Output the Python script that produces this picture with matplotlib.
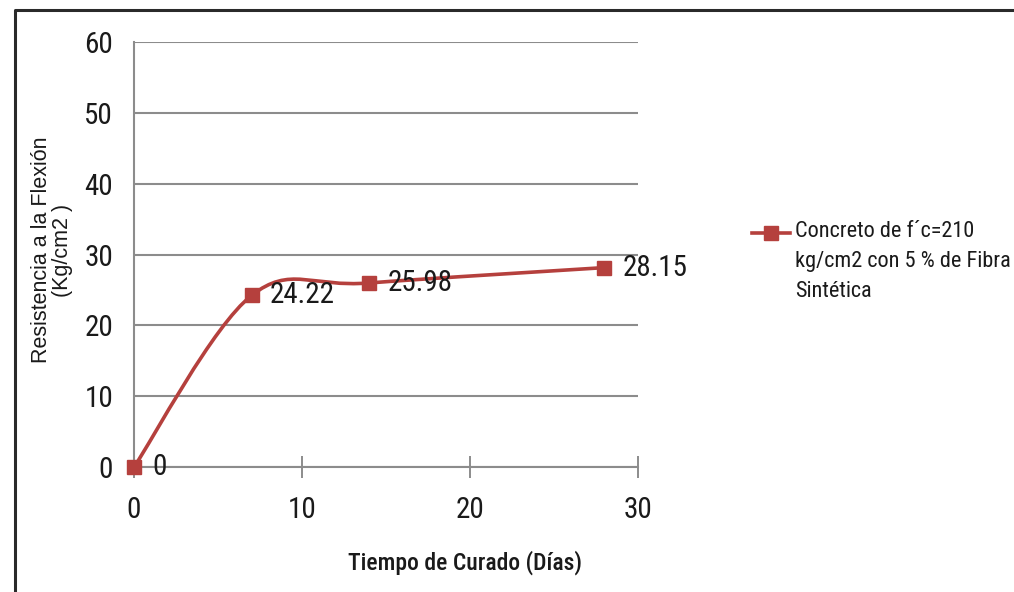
import numpy as np
import matplotlib
matplotlib.use("Agg")
import matplotlib.pyplot as plt
from matplotlib.path import Path
from matplotlib.patches import PathPatch
from matplotlib.lines import Line2D

dias = [0, 7, 14, 28]
resistencia = [0, 24.22, 25.98, 28.15]
etiquetas = ["0", "24.22", "25.98", "28.15"]
x_ticks = [0, 10, 20, 30]
y_ticks = [0, 10, 20, 30, 40, 50, 60]
serie = "Concreto de f´c=210\nkg/cm2 con 5 % de Fibra\nSintética"

rojo = "#B5403D"
gris = "#8c8c8c"
narrow = ["Roboto Condensed", "Archivo Narrow", "DejaVu Sans"]
arial = ["Liberation Sans", "Arimo", "DejaVu Sans"]

W, H = 1014, 592
fig = plt.figure(figsize=(W / 100, H / 100), dpi=100)
ax = fig.add_axes([134 / W, 1 - 467 / H, 504 / W, 425 / H])

ax.set_xlim(0, 30)
ax.set_ylim(0, 60)

# smoothed line like Excel (bezier through the points)
pts = np.column_stack([dias, resistencia])
n = len(pts)
verts = [tuple(pts[0])]
codes = [Path.MOVETO]
for i in range(n - 1):
    p0 = pts[max(i - 1, 0)]
    p1 = pts[i]
    p2 = pts[i + 1]
    p3 = pts[min(i + 2, n - 1)]
    c1 = p1 + (p2 - p0) / 6
    c2 = p2 - (p3 - p1) / 6
    verts += [tuple(c1), tuple(c2), tuple(p2)]
    codes += [Path.CURVE4] * 3
ax.add_patch(PathPatch(Path(verts, codes), fill=False, edgecolor=rojo, lw=2.6,
                       capstyle="round", joinstyle="round", zorder=3))
ax.plot(dias, resistencia, "s", color=rojo, markersize=10, zorder=4, clip_on=False)

for x, y, t in zip(dias, resistencia, etiquetas):
    ax.annotate(t, (x, y), xytext=(13, 0), textcoords="offset points",
                ha="left", va="center", fontsize=21, family=narrow, color="#1a1a1a", zorder=5)

ax.set_xticks(x_ticks)
ax.set_yticks(y_ticks)
ax.set_xticklabels([str(v) for v in x_ticks], family=narrow, fontsize=21, color="#1a1a1a")
ax.set_yticklabels([str(v) for v in y_ticks], family=narrow, fontsize=21, color="#1a1a1a")
ax.tick_params(axis="x", direction="inout", length=16, width=1.4, color=gris, pad=13)
ax.tick_params(axis="y", length=0, pad=15)

ax.grid(axis="y", color=gris, lw=1.5)
ax.set_axisbelow(True)
for s in ["top", "right"]:
    ax.spines[s].set_visible(False)
for s in ["left", "bottom"]:
    ax.spines[s].set_color(gris)
    ax.spines[s].set_linewidth(1.5)

fig.text(52 / W, 1 - 250 / H, "Resistencia a la Flexión\n(Kg/cm2 )", rotation=90,
         ha="center", va="center", multialignment="center", fontsize=15.5,
         family=arial, color="#1a1a1a", linespacing=0.95)
fig.text(465 / W, 1 - 563 / H, "Tiempo de Curado (Días)", ha="center", va="center",
         fontsize=17, fontweight="medium", family=narrow, color="#1a1a1a")

# legend drawn by hand so the marker sits on the first line
fig.add_artist(Line2D([752 / W, 790 / W], [1 - 233 / H, 1 - 233 / H], color=rojo, lw=2.6))
fig.add_artist(Line2D([771 / W], [1 - 233 / H], marker="s", color=rojo, markersize=10))
fig.text(795 / W, 1 - 221 / H, serie, ha="left", va="top", fontsize=16, family=narrow,
         color="#1a1a1a", linespacing=1.55)

# outer chart frame (runs off the right and bottom edges)
fig.add_artist(Line2D([15 / W, 15 / W, 1.0], [0.0, 1 - 10 / H, 1 - 10 / H], color="#2a2a2a", lw=2.2))

fig.savefig("out.png", dpi=100)
